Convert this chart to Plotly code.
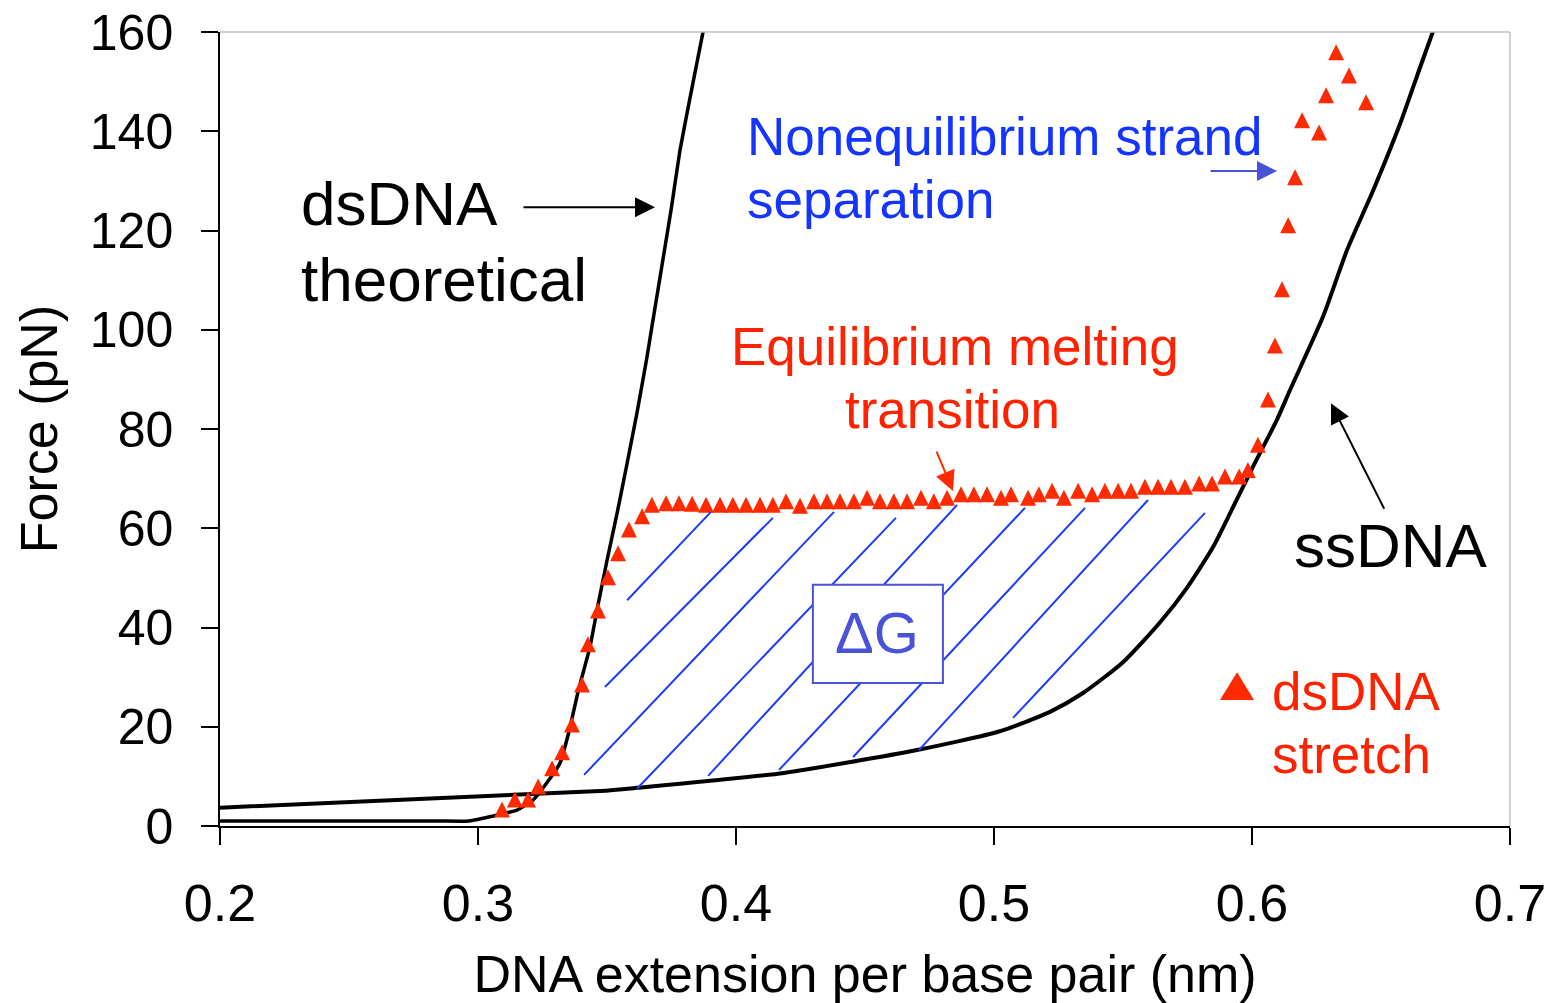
import plotly.graph_objects as go

# ---------------------------------------------------------------------------
# Data: DNA extension per base pair (nm) vs. force (pN)
# ---------------------------------------------------------------------------

# Theoretical dsDNA elasticity curve
ds_theory_x = [0.2000, 0.2500, 0.2850, 0.2965, 0.3151, 0.3213, 0.3267, 0.3318,
               0.3350, 0.3390, 0.3434, 0.3465, 0.3500, 0.3539, 0.3578, 0.3616,
               0.3655, 0.3674, 0.3750, 0.3783, 0.3833, 0.3876]
ds_theory_f = [1.0, 1.0, 1.0, 1.0, 3.2, 5.2, 8.7, 12.7,
               18.5, 27.5, 36.1, 44.5, 53.5, 63.0, 73.1, 83.2,
               94.5, 100.6, 124.7, 136.2, 149.7, 161.0]

# ssDNA elasticity curve
ss_x = [0.2000, 0.3473, 0.3616, 0.4186, 0.4702, 0.5023, 0.5217, 0.5345,
        0.5500, 0.5643, 0.5748, 0.5849, 0.5927, 0.6004, 0.6097, 0.6147,
        0.6275, 0.6368, 0.6469, 0.6574, 0.6651, 0.6709]
ss_f = [3.7, 7.05, 7.7, 10.7, 15.3, 19.1, 23.0, 26.8,
        33.0, 41.0, 48.0, 56.2, 64.3, 72.4, 81.9, 87.8,
        102.6, 116.0, 128.0, 141.5, 152.8, 161.2]

# Measured dsDNA stretching data
stretch_x = [0.3093, 0.3143, 0.3194, 0.3233, 0.3287, 0.3326, 0.3364, 0.3403,
             0.3426, 0.3465, 0.3504, 0.3543, 0.3585, 0.3636,
             0.3674, 0.3729, 0.3779, 0.3830, 0.3884, 0.3938, 0.3988, 0.4039,
             0.4093, 0.4143, 0.4194, 0.4248, 0.4302, 0.4353, 0.4403, 0.4457,
             0.4508, 0.4558, 0.4612, 0.4663, 0.4717, 0.4767, 0.4818, 0.4872,
             0.4922, 0.4973, 0.5027, 0.5066, 0.5132, 0.5174, 0.5225, 0.5271,
             0.5326, 0.5380, 0.5430, 0.5481, 0.5531, 0.5585, 0.5636, 0.5686,
             0.5740, 0.5795, 0.5845, 0.5895, 0.5950, 0.5984, 0.6023,
             0.6062, 0.6089, 0.6116, 0.6140, 0.6167, 0.6194, 0.6260, 0.6287,
             0.6326, 0.6376, 0.6442]
stretch_f = [2.8, 4.8, 4.8, 7.4, 11.1, 14.3, 19.9, 28.0,
             36.1, 42.9, 49.6, 54.4, 59.2, 61.9,
             64.2, 64.5, 64.5, 64.4, 64.2, 64.2, 64.2, 64.2,
             64.2, 64.2, 64.9, 64.0, 64.9, 64.9, 64.9, 64.9,
             65.6, 64.9, 64.9, 64.9, 65.6, 64.9, 65.6, 66.3,
             66.3, 66.3, 65.6, 66.3, 65.6, 66.3, 67.0, 65.6,
             67.0, 66.3, 67.0, 67.0, 67.0, 67.8, 67.8, 67.8,
             67.8, 68.5, 68.5, 69.9, 69.9, 71.2, 76.3,
             85.4, 96.3, 107.6, 120.5, 130.2, 141.7, 139.2, 146.7,
             155.4, 150.7, 145.3]

x_tickvals = [0.2, 0.3, 0.4, 0.5, 0.6, 0.7]
x_ticktext = ["0.2", "0.3", "0.4", "0.5", "0.6", "0.7"]
y_tickvals = [0, 20, 40, 60, 80, 100, 120, 140, 160]
y_ticktext = ["0", "20", "40", "60", "80", "100", "120", "140", "160"]

# ---------------------------------------------------------------------------
# Styling
# ---------------------------------------------------------------------------
FONT = "Liberation Sans, Arial, Helvetica, sans-serif"
RED = "#ff2a00"
RED_TEXT = "#ff2200"
BLUE_TEXT = "#1434ff"
BLUE_SOFT = "#4a52d8"
HATCH = "#1a3cff"
FRAME = "#c0c0c0"

MARKER_SIZE = 16

fig = go.Figure()

fig.add_trace(go.Scatter(
    x=ds_theory_x, y=ds_theory_f, mode="lines",
    line=dict(color="black", width=3.5, shape="spline", smoothing=0.4),
    hoverinfo="skip", showlegend=False))

fig.add_trace(go.Scatter(
    x=ss_x, y=ss_f, mode="lines",
    line=dict(color="black", width=4, shape="spline", smoothing=0.6),
    hoverinfo="skip", showlegend=False))

# Upward triangles centred on their centroid (near-equilateral shape)
fig.add_trace(go.Scatter(
    x=stretch_x, y=stretch_f, mode="markers",
    marker=dict(symbol="arrow-down", angle=180, size=MARKER_SIZE,
                standoff=MARKER_SIZE * 2 / 3, color=RED, line=dict(width=0)),
    showlegend=False))

# Hatching marking the work done during the melting transition (ΔG)
hatch_segments = [
    (0.3578, 45.5, 0.3903, 63.3),
    (0.3492, 28.0, 0.4143, 62.1),
    (0.3411, 10.3, 0.4380, 63.3),
    (0.3616, 7.5, 0.4620, 62.1),
    (0.3892, 10.1, 0.4857, 64.7),
    (0.4167, 11.3, 0.5120, 64.1),
    (0.4454, 13.9, 0.5353, 64.1),
    (0.4709, 15.3, 0.5597, 65.7),
    (0.5074, 21.8, 0.5818, 63.1),
]
shapes = []
for x0, y0, x1, y1 in hatch_segments:
    shapes.append(dict(type="line", xref="x", yref="y", x0=x0, y0=y0, x1=x1, y1=y1,
                       line=dict(color=HATCH, width=2), layer="above"))

# ΔG label box
shapes.append(dict(type="rect", xref="x", yref="y",
                   x0=0.4298, x1=0.4802, y0=28.8, y1=48.6,
                   line=dict(color=BLUE_SOFT, width=2), fillcolor="white", layer="above"))

# Frame: light grey top and right edges
shapes.append(dict(type="line", xref="paper", yref="paper", x0=0, x1=1, y0=1, y1=1,
                   line=dict(color=FRAME, width=1.5)))
shapes.append(dict(type="line", xref="paper", yref="paper", x0=1, x1=1, y0=0, y1=1,
                   line=dict(color=FRAME, width=1.5)))

# Legend key triangle for the stretch data
shapes.append(dict(type="path", xref="x", yref="y",
                   path="M 0.5876 25.4 L 0.6008 25.4 L 0.5942 31.0 Z",
                   fillcolor=RED, line=dict(width=0)))

annotations = []


def label(text, x, y, size, color, xanchor="left"):
    annotations.append(dict(text=text, x=x, y=y, xref="x", yref="y",
                            xanchor=xanchor, yanchor="middle", showarrow=False,
                            font=dict(family=FONT, size=size, color=color)))


def arrow(x, y, ax, ay, color):
    annotations.append(dict(text="", x=x, y=y, xref="x", yref="y",
                            ax=ax, ay=ay, axref="pixel", ayref="pixel",
                            showarrow=True, arrowhead=2, arrowsize=2,
                            arrowwidth=2, arrowcolor=color))


label("dsDNA", 0.2307, 125.5, 62, "black")
label("theoretical", 0.2307, 110.2, 62, "black")
arrow(0.3686, 124.7, -133, 0, "black")

label("Nonequilibrium strand", 0.4035, 138.9, 53, BLUE_TEXT)
label("separation", 0.4035, 126.3, 53, BLUE_TEXT)
arrow(0.6097, 132.0, -68, 0, BLUE_SOFT)

label("Equilibrium melting", 0.4847, 96.6, 53, RED_TEXT, xanchor="center")
label("transition", 0.4841, 83.9, 53, RED_TEXT, xanchor="center")
arrow(0.4841, 67.5, -17, -41, RED)

label("ssDNA", 0.6539, 56.6, 62, "black", xanchor="center")
arrow(0.6306, 85.2, 54, 107, "black")

label("ΔG", 0.4547, 38.9, 58, BLUE_SOFT, xanchor="center")

label("dsDNA", 0.6070, 27.1, 53, RED_TEXT)
label("stretch", 0.6070, 14.4, 53, RED_TEXT)

axis_common = dict(
    showgrid=False, zeroline=False, automargin=False,
    showline=True, linecolor="black", linewidth=1.5,
    ticks="outside", ticklen=17, tickwidth=1.5, tickcolor="black",
)

fig.update_layout(
    width=1551, height=1003,
    margin=dict(l=220, r=41, t=32, b=177),
    paper_bgcolor="white", plot_bgcolor="white",
    font=dict(family=FONT, color="black"),
    showlegend=False,
    shapes=shapes,
    annotations=annotations,
    xaxis=dict(
        range=[0.2, 0.7], tickvals=x_tickvals, ticktext=x_ticktext,
        tickfont=dict(size=52), ticklabelstandoff=14,
        title=dict(text="DNA extension per base pair (nm)",
                   font=dict(size=52), standoff=26),
        **axis_common),
    yaxis=dict(
        range=[0, 160], tickvals=y_tickvals, ticktext=y_ticktext,
        tickfont=dict(size=50), ticklabelstandoff=18,
        title=dict(text="Force (pN)", font=dict(size=52), standoff=16),
        **axis_common),
)

fig.write_html("out.html")
